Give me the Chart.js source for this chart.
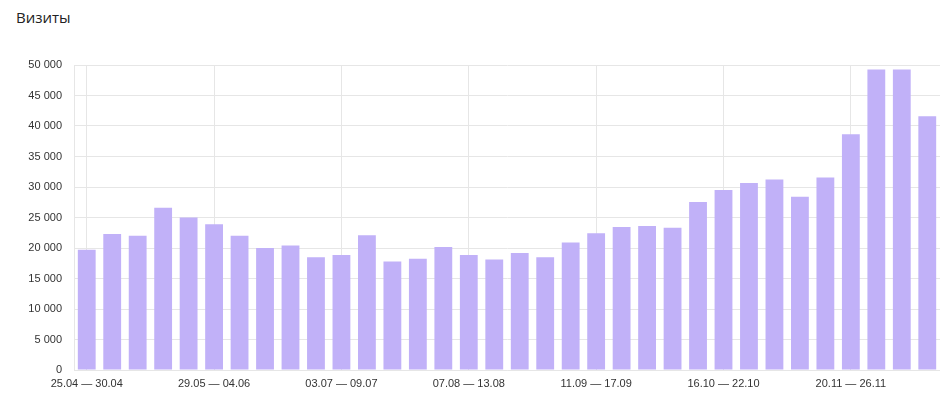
<!DOCTYPE html>
<html lang="ru">
<head>
	<meta charset="utf-8">
	<script src="https://cdn.jsdelivr.net/npm/chart.js@4.4.1/dist/chart.umd.min.js"></script>
	<style>
		body { margin:0; background:#fff; }
		#titulo { position:absolute; left:16px; top:7px; font-family:"Open Sans","Noto Sans",sans-serif; font-size:15px; color:#222; }
		#box { position:absolute; left:0; top:0; width:940px; height:399px; }
	</style>
</head>
<body>
	<div id="titulo">Визиты</div>
	<div id="box"><canvas id="grafico"></canvas></div>
	<script>
	// недели
	var semanas = [
		"25.04 — 30.04", "01.05 — 07.05", "08.05 — 14.05", "15.05 — 21.05", "22.05 — 28.05",
		"29.05 — 04.06", "05.06 — 11.06", "12.06 — 18.06", "19.06 — 25.06", "26.06 — 02.07",
		"03.07 — 09.07", "10.07 — 16.07", "17.07 — 23.07", "24.07 — 30.07", "31.07 — 06.08",
		"07.08 — 13.08", "14.08 — 20.08", "21.08 — 27.08", "28.08 — 03.09", "04.09 — 10.09",
		"11.09 — 17.09", "18.09 — 24.09", "25.09 — 01.10", "02.10 — 08.10", "09.10 — 15.10",
		"16.10 — 22.10", "23.10 — 29.10", "30.10 — 05.11", "06.11 — 12.11", "13.11 — 19.11",
		"20.11 — 26.11", "27.11 — 03.12", "04.12 — 10.12", "11.12 — 17.12"
	];
	// визиты
	var visitas = [
		19700, 22300, 22000, 26600, 25000, 23900, 22000, 20000, 20400, 18500,
		18850, 22100, 17800, 18250, 20150, 18850, 18100, 19200, 18500, 20900,
		22400, 23450, 23600, 23300, 27550, 29500, 30650, 31250, 28400, 31550,
		38650, 49250, 49250, 41600
	];
	var yTicks = [0, 5000, 10000, 15000, 20000, 25000, 30000, 35000, 40000, 45000, 50000];

	var corBarra = "#c1b1f8";
	var corGrade = "#e6e6e6";
	var fonte = { family: "Arial, 'Liberation Sans'", size: 11 };

	var ctx = document.getElementById('grafico').getContext('2d');
	var chart = new Chart(ctx, {
		type: 'bar',
		data: {
			labels: semanas,
			datasets: [{
				data: visitas,
				backgroundColor: corBarra,
				borderWidth: 0,
				categoryPercentage: 1,
				barPercentage: 0.7
			}]
		},
		options: {
			responsive: true,
			maintainAspectRatio: false,
			animation: false,
			layout: { padding: { top: 65, right: 0, bottom: 0, left: 0 } },
			plugins: { legend: { display: false }, tooltip: { enabled: false }, title: { display: false } },
			scales: {
				x: {
					grid: { color: corGrade, offset: false, drawTicks: false },
					border: { color: corGrade },
					ticks: {
						autoSkip: false,
						maxRotation: 0,
						padding: 7,
						color: '#333',
						font: fonte,
						callback: function(v, i) { return i % 5 === 0 ? semanas[i] : null; }
					},
					afterFit: function(s) { s.height = 29; }
				},
				y: {
					min: 0,
					max: 50000,
					grid: { color: corGrade, drawTicks: false },
					border: { color: corGrade },
					afterBuildTicks: function(s) { s.ticks = yTicks.map(function(v) { return { value: v }; }); },
					ticks: {
						padding: 12,
						color: '#333',
						font: fonte,
						callback: function(v) { return String(v).replace(/\B(?=(\d{3})+(?!\d))/g, ' '); }
					},
					afterFit: function(s) { s.width = 74; }
				}
			}
		}
	});
	</script>
</body>
</html>
